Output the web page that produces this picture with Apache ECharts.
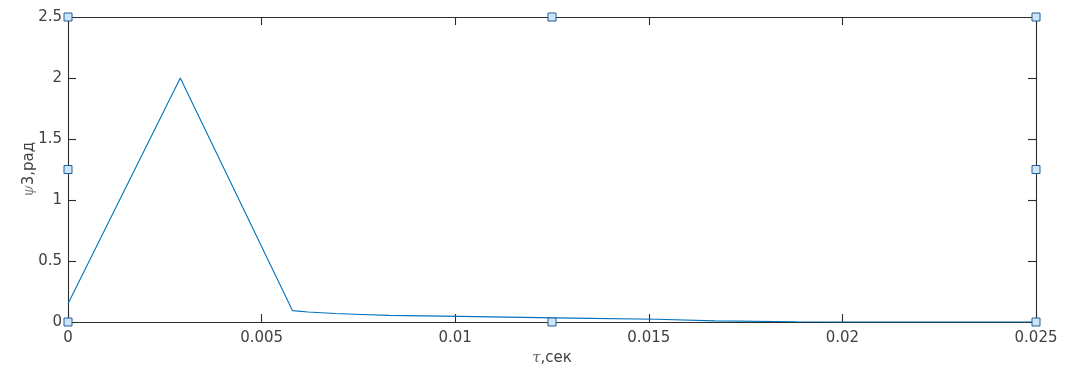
<!DOCTYPE html>
<html>
<head>
<meta charset="utf-8">
<script src="https://cdn.jsdelivr.net/npm/echarts@6/dist/echarts.min.js"></script>
<style>
html,body{margin:0;padding:0;background:#fff;}
#chart{width:1067px;height:376px;}
</style>
</head>
<body>
<div id="chart"></div>
<script>
// time, s
const tValues = [0, 0.0029, 0.0058, 0.0062, 0.0069, 0.0076, 0.0083, 0.0101, 0.0130, 0.0152, 0.0167, 0.0188, 0.0200, 0.0250];
// psi3, rad
const psiValues = [0.15, 2.0, 0.093, 0.082, 0.070, 0.062, 0.054, 0.046, 0.032, 0.022, 0.009, 0.002, 0.0, 0.0];
const xTicks = [0, 0.005, 0.01, 0.015, 0.02, 0.025];
const yTicks = [0, 0.5, 1, 1.5, 2, 2.5];
// selection handles (axis units): corners and edge midpoints
const handleX = [0, 0.0125, 0.025, 0, 0.025, 0, 0.0125, 0.025];
const handleY = [2.5, 2.5, 2.5, 1.25, 1.25, 0, 0, 0];

const axisColor = '#2b2b2b';
const labelColor = '#404040';
const fontFamily = 'DejaVu Sans, Liberation Sans, sans-serif';

const lineData = tValues.map((t, i) => [t, psiValues[i]]);
const handleData = handleX.map((x, i) => [x, handleY[i]]);

function baseAxis(extra) {
  return Object.assign({
    type: 'value',
    splitLine: { show: false },
    axisLine: { show: true, onZero: false, lineStyle: { color: axisColor, width: 1.1 } },
    axisTick: { show: true, inside: true, length: 8, lineStyle: { color: axisColor, width: 1.1 } },
  }, extra);
}

const chart = echarts.init(document.getElementById('chart'), null, { renderer: 'canvas' });
chart.setOption({
  animation: false,
  backgroundColor: '#ffffff',
  grid: { left: 68, right: 31, top: 17, bottom: 54, containLabel: false },
  xAxis: [
    baseAxis({
      position: 'bottom', min: xTicks[0], max: xTicks[xTicks.length - 1], interval: xTicks[1] - xTicks[0],
      axisLabel: { show: true, color: labelColor, fontSize: 15, fontFamily: fontFamily, margin: 9 },
      name: '{i|τ},сек', nameLocation: 'middle', nameGap: 29, nameMoveOverlap: false,
      nameTextStyle: {
        color: labelColor, fontSize: 15, fontFamily: fontFamily,
        rich: { i: { fontStyle: 'italic', fontFamily: 'DejaVu Serif, serif', fontSize: 15, color: '#666' } }
      }
    }),
    baseAxis({
      position: 'top', min: xTicks[0], max: xTicks[xTicks.length - 1], interval: xTicks[1] - xTicks[0],
      axisLabel: { show: false }
    })
  ],
  yAxis: [
    baseAxis({
      position: 'left', min: yTicks[0], max: yTicks[yTicks.length - 1], interval: yTicks[1] - yTicks[0],
      axisLabel: { show: true, color: labelColor, fontSize: 15, fontFamily: fontFamily, margin: 6 },
      name: '{i|ψ}3,рад', nameLocation: 'middle', nameGap: 31, nameRotate: 90, nameMoveOverlap: false,
      nameTextStyle: {
        color: labelColor, fontSize: 15, fontFamily: fontFamily,
        rich: { i: { fontStyle: 'italic', fontFamily: 'DejaVu Serif, serif', fontSize: 15, color: '#888' } }
      }
    }),
    baseAxis({
      position: 'right', min: yTicks[0], max: yTicks[yTicks.length - 1], interval: yTicks[1] - yTicks[0],
      axisLabel: { show: false }
    })
  ],
  series: [
    {
      type: 'line',
      xAxisIndex: 0, yAxisIndex: 0,
      data: lineData,
      showSymbol: false,
      symbol: 'none',
      lineStyle: { color: '#0072BD', width: 1.1 },
      z: 3
    },
    {
      type: 'scatter',
      xAxisIndex: 0, yAxisIndex: 0,
      data: handleData,
      symbol: 'rect',
      symbolSize: 8,
      clip: false,
      itemStyle: { color: '#cfe4f6', borderColor: '#1f5f9c', borderWidth: 1, opacity: 1 },
      z: 10,
      silent: true
    }
  ]
});
</script>
</body>
</html>
